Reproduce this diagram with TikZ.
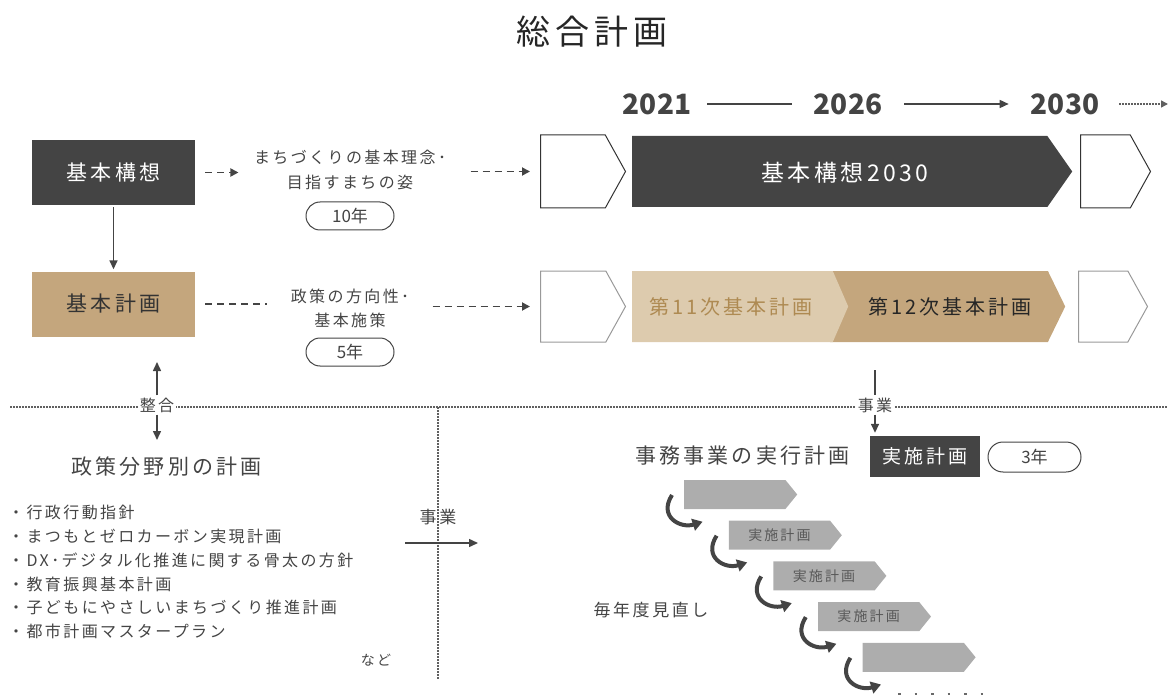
\documentclass[tikz,border=0pt]{standalone}
\usepackage{fontspec}
\setmainfont{Noto Sans CJK JP}
\newfontfamily\jp[LetterSpace=15]{Noto Sans CJK JP}
\usetikzlibrary{arrows.meta,shapes.symbols,positioning}

\definecolor{boxdark}{HTML}{444444}
\definecolor{tan}{HTML}{C4A67D}
\definecolor{lighttan}{HTML}{DDCBAE}
\definecolor{tantext}{HTML}{AE8A52}
\definecolor{chevgray}{HTML}{ADADAD}
\definecolor{txt}{HTML}{444444}

\newcommand\fsz[2]{\fontsize{#1}{#2}\selectfont}

\tikzset{
  every node/.style={text=txt},
  plainbox/.style={minimum width=163, minimum height=65, inner sep=0, font=\jp\fsz{21}{25}},
  pill/.style={draw=txt, line width=1, rounded corners=14, minimum width=88, minimum height=28, inner sep=0, font=\fsz{17}{20}},
  chev/.style={signal, signal to=east, inner sep=0, anchor=west},
  year/.style={inner sep=0, font=\fsz{28}{30}\bfseries},
  dasharr/.style={txt, line width=1.8, dash pattern=on 7pt off 5pt, -{Triangle[length=8pt,width=8pt]}},
  dashline/.style={txt, line width=1.8, dash pattern=on 7pt off 5pt},
  arr/.style={txt, line width=1.5, -{Triangle[length=9pt,width=8pt]}},
  dotline/.style={txt!85, line width=1.5, dash pattern=on 1.5pt off 1.5pt},
  curvarr/.style={txt, line width=4, -{Triangle[length=10pt,width=12pt]}},
}

\begin{document}
\begin{tikzpicture}[x=1pt,y=-1pt]
\useasboundingbox (0,0) rectangle (1170,695);

% title
\node[font=\jp\fsz{34}{40}, text=black!85] (title) at (592,32) {総合計画};

% years
\node[year] (y2021) at (657,104) {2021};
\node[year] (y2026) at (848,104) {2026};
\node[year] (y2030) at (1065,104) {2030};
\coordinate (axisend) at (1168,104);
\draw[txt, line width=1.5, shorten <=16pt, shorten >=22pt] (y2021.east) -- (y2026.west);
\draw[arr, shorten <=22pt, shorten >=22pt] (y2026.east) -- (y2030.west);
\draw[dotline, -{Triangle[length=7pt,width=7pt]}, shorten <=20pt] (y2030.east) -- (axisend);

% row 1
\node[plainbox, fill=boxdark, text=white] (kousou) at (113.5,172.5) {基本構想};
\node[font=\jp\fsz{16}{25}, align=center] (rinen) at (350,170) {まちづくりの基本理念･\\目指すまちの姿};
\node[pill] (p10) at (350,216) {10年};
\node[chev, draw=black!80, line width=1, minimum width=85, minimum height=73, signal pointer angle=122] (cw1) at (540,171.5) {};
\node[chev, fill=boxdark, minimum width=440, minimum height=71, signal pointer angle=110] (kd) at (632,171.5) {};
\node[font=\jp\fsz{23}{26}, text=white] (kdtext) at (845,173) {基本構想2030};
\node[chev, draw=black!80, line width=1, minimum width=70, minimum height=73, signal pointer angle=122] (cw2) at (1080,171.5) {};

\draw[dasharr, shorten <=10pt, shorten >=12pt] (kousou.east) -- (rinen.west |- kousou.east);
\draw[dasharr, shorten <=21pt, shorten >=10pt] (rinen.east |- cw1.west) -- (cw1.west);

% row 2
\node[plainbox, fill=tan, text=black!80] (keikaku) at (113.5,304) {基本計画};
\node[font=\jp\fsz{16}{24}, align=center] (housaku) at (350,308) {政策の方向性･\\基本施策};
\node[pill] (p5) at (350,352) {5年};
\node[chev, draw=black!40, line width=1, minimum width=85, minimum height=71, signal pointer angle=122] (cw3) at (540,306.5) {};
\node[chev, fill=tan, minimum width=235, minimum height=71, signal pointer angle=128] (dt) at (830,306.5) {};
\node[chev, fill=lighttan, minimum width=216, minimum height=71, signal pointer angle=133] (lt) at (632,306.5) {};
\node[font=\jp\fsz{20}{24}, text=tantext] (t11) at (731,307) {第11次基本計画};
\node[font=\jp\fsz{20}{24}, text=black!85] (t12) at (950,307) {第12次基本計画};
\node[chev, draw=black!40, line width=1, minimum width=69, minimum height=71, signal pointer angle=122] (cw4) at (1078,306.5) {};

\draw[arr, shorten <=2pt, shorten >=2pt] (kousou.south) -- (keikaku.north);
\draw[dashline, shorten <=10pt, shorten >=20pt] (keikaku.east) -- (housaku.west |- keikaku.east);
\draw[dasharr, shorten <=20pt, shorten >=10pt] (housaku.east |- cw3.west) -- (cw3.west);

% dividers
\draw[dotline] (10,407) -- (1168,407);
\draw[dotline] (438,407) -- (438,680);

\node[fill=white, inner sep=2, font=\jp\fsz{16}{18}] (seigou) at (157,405) {整合};
\coordinate (seigoutop) at (157,362);
\coordinate (seigoubot) at (157,440);
\draw[arr] (seigou.north) -- (seigoutop);
\draw[arr] (seigou.south) -- (seigoubot);

% bottom right
\node[font=\jp\fsz{21}{25}] (jikkou) at (742.5,456) {事務事業の実行計画};
\node[fill=boxdark, text=white, minimum width=110, minimum height=41, inner sep=0, font=\jp\fsz{19}{22}] (jisshi) at (925,456.5) {実施計画};
\node[pill, minimum width=93, minimum height=30, rounded corners=15] (p3) at (1034.5,457) {3年};
\node[font=\jp\fsz{17}{20}] (minaoshi) at (651,610) {毎年度見直し};

\node[fill=white, inner sep=2, font=\jp\fsz{16}{18}] (jigyou1) at (875,405) {事業};
\coordinate (jtop) at (875,370);
\draw[txt, line width=1.5] (jtop) -- (jigyou1.north);
\draw[arr, shorten >=3pt] (jigyou1.south) -- (jigyou1.south |- jisshi.north);

% bottom left
\node[font=\jp\fsz{21}{25}] (bunya) at (166.5,467) {政策分野別の計画};
\node[anchor=north west, align=left, inner sep=0, font=\jp\fsz{16}{23.8}] (plans) at (8,505)
  {・行政行動指針\\・まつもとゼロカーボン実現計画\\・DX･デジタル化推進に関する骨太の方針\\・教育振興基本計画\\・子どもにやさしいまちづくり推進計画\\・都市計画マスタープラン};
\node[font=\jp\fsz{14}{16}] (nado) at (376,660) {など};
\node[font=\jp\fsz{17}{20}] (jigyou2) at (438,517) {事業};
\coordinate (ja) at (405,543);
\coordinate (jb) at (478,543);
\draw[arr] (ja) -- (jb);

% staircase
\foreach \i in {0,...,5}{
  \coordinate (s\i) at (672+44.6*\i, 495+40.7*\i);
  \coordinate (t\i) at (658+44.6*\i, 481+40.7*\i);
}
\foreach \i/\lbl in {0/,1/実施計画,2/実施計画,3/実施計画,4/}
  \node[chev, fill=chevgray, minimum width=113, minimum height=29, signal pointer angle=102,
        font=\jp\fsz{14}{16}, text=black!65] (g\i) at (684+44.6*\i, 494.5+40.7*\i) {\lbl};
\foreach \i [count=\j from 1] in {0,...,4}
  \draw[curvarr] (s\i) .. controls +(-14,22) and +(-22,7) .. (t\j);
\draw[txt!80, line width=2.5, dash pattern=on 2.5pt off 14pt] (898,694) -- (985,694);
\end{tikzpicture}
\end{document}
